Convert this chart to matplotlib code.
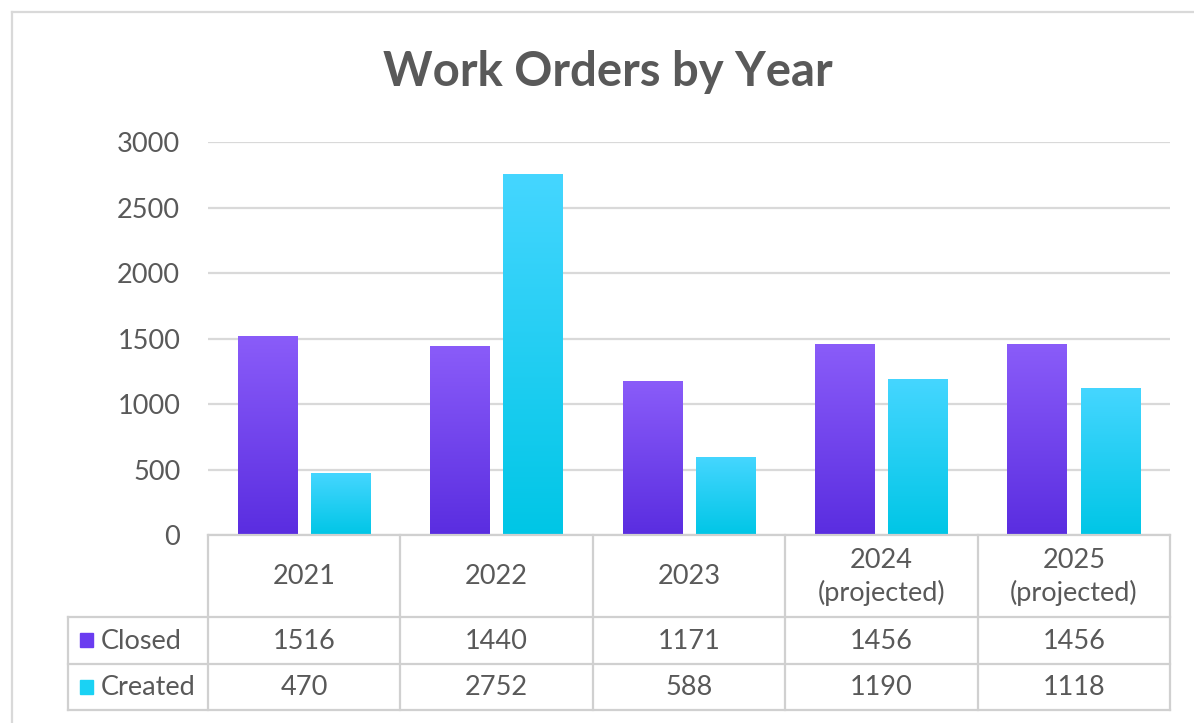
import matplotlib
matplotlib.use('Agg')
import matplotlib.pyplot as plt
import numpy as np
from matplotlib.colors import LinearSegmentedColormap
from matplotlib.patches import Rectangle

plt.rcParams['font.family'] = ['Lato', 'DejaVu Sans']

years = ['2021', '2022', '2023', '2024\n(projected)', '2025\n(projected)']
closed = [1516, 1440, 1171, 1456, 1456]
created = [470, 2752, 588, 1190, 1118]
series_names = ['Closed', 'Created']
yticks = [0, 500, 1000, 1500, 2000, 2500, 3000]

txt = '#595959'
grid_col = '#d9d9d9'
closed_top, closed_bot = '#8a5cf9', '#5a2de0'
created_top, created_bot = '#45d6ff', '#00c6e6'
fs = 19.5

W, H = 1194, 723
fig = plt.figure(figsize=(W / 100, H / 100), dpi=100)

def fx(px):
    return px / W

def fy(py):
    return 1 - py / H

# outer chart border (top + left)
fig.add_artist(plt.Line2D([fx(12), fx(1194)], [fy(12), fy(12)], color='#d9d9d9', lw=1.6))
fig.add_artist(plt.Line2D([fx(12), fx(12)], [fy(12), fy(723)], color='#d9d9d9', lw=1.6))

# main plot area
left, right, top, bot = 208, 1170, 142, 535
ax = fig.add_axes([fx(left), fy(bot), fx(right - left), (bot - top) / H])
ax.set_xlim(-0.5, 4.5)
ax.set_ylim(0, 3000)
for s in ax.spines.values():
    s.set_visible(False)
ax.set_yticks(yticks)
ax.set_yticklabels([str(t) for t in yticks], fontsize=fs, color=txt)
ax.tick_params(axis='y', length=0, pad=20)
ax.set_xticks([])
ax.yaxis.grid(True, color=grid_col, lw=1.6)
ax.set_axisbelow(True)

x = np.arange(len(years))
bw = 0.31
off = 0.19

def grad_bars(xs, vals, c_top, c_bot):
    cmap = LinearSegmentedColormap.from_list('g', [c_bot, c_top])
    grad = np.linspace(0, 1, 256).reshape(-1, 1)
    bars = ax.bar(xs, vals, width=bw, color='none', edgecolor='none', zorder=2)
    for b in bars:
        bx, by = b.get_x(), b.get_y()
        bwid, bh = b.get_width(), b.get_height()
        ax.imshow(grad, extent=[bx, bx + bwid, by, by + bh], origin='lower',
                  aspect='auto', cmap=cmap, zorder=2)
    return bars

grad_bars(x - off, closed, closed_top, closed_bot)
grad_bars(x + off, created, created_top, created_bot)
ax.set_xlim(-0.5, 4.5)
ax.set_ylim(0, 3000)

# data table below the plot
tleft, tbot = 68, 710
hdr_h, row_h = 82, 46.5
cat_w = (right - left) / 5.0
tax = fig.add_axes([fx(tleft), fy(tbot), fx(right - tleft), (tbot - bot) / H])
tax.set_xlim(-0.5 - (left - tleft) / cat_w, 4.5)
tax.set_ylim(tbot - bot, 0)
tax.axis('off')

lc = '#d0d0d0'
lw = 1.6
x0 = -0.5 - (left - tleft) / cat_w
# horizontal lines
tax.plot([-0.5, 4.5], [0, 0], color=lc, lw=lw, clip_on=False)
for yy in [hdr_h, hdr_h + row_h, tbot - bot]:
    tax.plot([x0, 4.5], [yy, yy], color=lc, lw=lw, clip_on=False)
# vertical lines
for i in range(6):
    tax.plot([i - 0.5, i - 0.5], [0, tbot - bot], color=lc, lw=lw, clip_on=False)
tax.plot([x0, x0], [hdr_h, tbot - bot], color=lc, lw=lw, clip_on=False)

for i, yr in enumerate(years):
    tax.text(i, hdr_h / 2 + 1, yr, ha='center', va='center', fontsize=fs,
             color=txt, linespacing=1.3)

rows = [closed, created]
sw_cols = ['#6a3cf0', '#1ad2f4']
for r, (name, vals) in enumerate(zip(series_names, rows)):
    yc = hdr_h + row_h * (r + 0.5)
    tax.add_patch(Rectangle((x0 + 0.06, yc - 7), 0.068, 14, color=sw_cols[r],
                            clip_on=False))
    tax.text(x0 + 0.17, yc + 1, name, ha='left', va='center', fontsize=fs, color=txt)
    for i, v in enumerate(vals):
        tax.text(i, yc + 1, str(v), ha='center', va='center', fontsize=fs, color=txt)

fig.text(fx(608), fy(72), 'Work Orders by Year', ha='center', va='center',
         fontsize=34, fontweight='bold', color=txt)

fig.savefig('out.png', dpi=100, facecolor='white')
